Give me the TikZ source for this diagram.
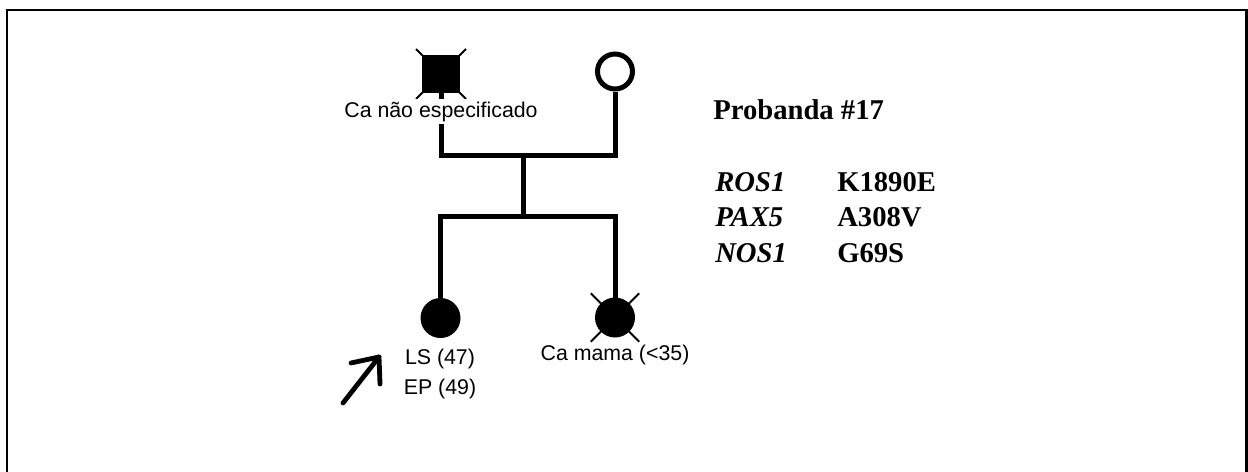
\documentclass[tikz,border=0pt]{standalone}
\usepackage{fontspec}
\setmainfont{Liberation Serif}
\newfontfamily\labelfont{Liberation Sans}
\begin{document}
\begin{tikzpicture}[x=0.75pt,y=-0.75pt,
  ped/.style={line width=3.75pt},
  deadmark/.style={line width=1.5pt},
  maleaff/.style={rectangle, fill=black, minimum size=28.5pt, inner sep=0pt, outer sep=0pt},
  femopen/.style={circle, draw, fill=white, line width=3.75pt, minimum size=26.25pt, inner sep=0pt},
  femaff/.style={circle, fill=black, minimum size=30pt, inner sep=0pt, outer sep=0pt},
  lbl/.style={font=\labelfont\fontsize{16}{19}\selectfont, inner sep=2.25pt},
  title/.style={font=\bfseries\fontsize{21.5}{25}\selectfont, inner sep=0pt, anchor=base west},
  gene/.style={font=\bfseries\itshape\fontsize{21.5}{25}\selectfont, inner sep=0pt, anchor=base west},
  variant/.style={font=\bfseries\fontsize{21.5}{25}\selectfont, inner sep=0pt, anchor=base west},
  pointer/.style={line width=3.6pt, line cap=round, line join=round}
]
% page and frame
\useasboundingbox (0,0) rectangle (1248,471);
\clip (0,0) rectangle (1248,471);
\fill[white] (0,0) rectangle (1248,471);
\draw[line width=1.9pt] (7,490) -- (7,10) -- (1246.5,10) -- (1246.5,490);

% individuals
\node[maleaff] (father) at (441,74) {};
\node[femopen] (mother) at (615,71.5) {};
\node[femaff] (proband) at (440.5,318) {};
\node[femaff] (sister) at (615,317.5) {};

% junction points of the pedigree lines
\coordinate (couple) at (523,155);
\coordinate (sibship) at (523,216);

% lines of descent
\draw[ped] (father.center) |- (couple) -| (mother.south);
\draw[ped] (couple) -- (sibship);
\draw[ped] (proband.north) |- (sibship) -| (sister.north);
\node[maleaff] at (father) {};

% deceased marks
\draw[deadmark] ([shift={(-6,-6)}]father.north west) -- ([shift={(6,6)}]father.south east);
\draw[deadmark] ([shift={(-6,6)}]father.south west) -- ([shift={(6,-6)}]father.north east);
\draw[deadmark] ([shift={(-10,-10)}]sister.135) -- ([shift={(10,10)}]sister.-45);
\draw[deadmark] ([shift={(-10,10)}]sister.-135) -- ([shift={(10,-10)}]sister.45);

% labels of individuals
\node[lbl, fill=white, anchor=base] (fatherlbl) at (441,117) {Ca não especificado};
\node[lbl, anchor=base] (problbla) at (440,364) {LS (47)};
\node[lbl, anchor=base] (problblb) at (440,394) {EP (49)};
\node[lbl, anchor=base] (sisterlbl) at (615,360) {Ca mama (<35)};

% proband arrow
\coordinate (arrtail) at (343,403);
\coordinate (arrtip) at (379,357);
\coordinate (armleft) at (351,363);
\coordinate (armdown) at (380,384);
\draw[pointer] (arrtail) -- (arrtip);
\draw[pointer] (armleft) -- (arrtip) -- (armdown);

% variant table
\node[title] (heading) at (713,119) {Probanda \#17};
\node[gene] (g1) at (715,191) {ROS1};
\node[variant] (v1) at (837,191) {K1890E};
\node[gene] (g2) at (715,226) {PAX5};
\node[variant] (v2) at (837,226) {A308V};
\node[gene] (g3) at (715,262) {NOS1};
\node[variant] (v3) at (837,262) {G69S};
\end{tikzpicture}
\end{document}
